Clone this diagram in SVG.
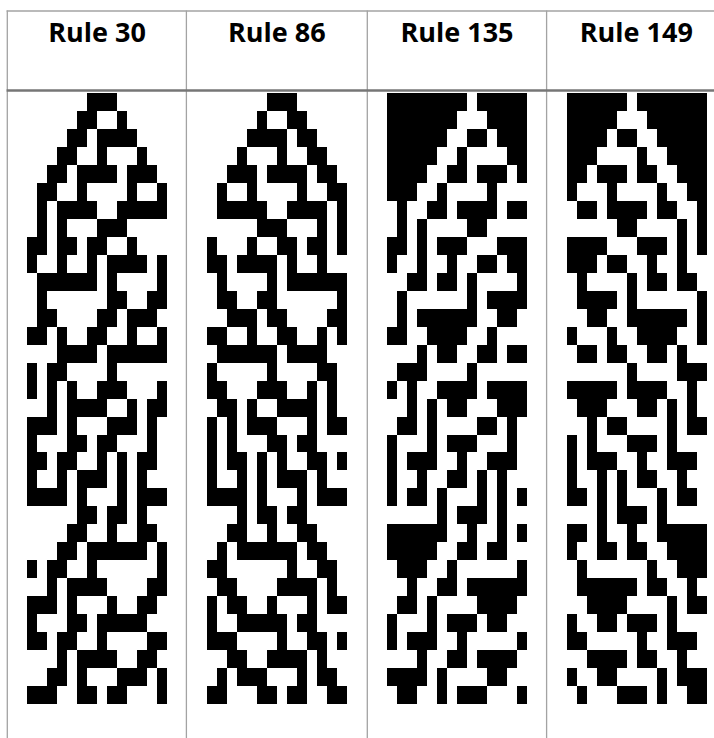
<svg xmlns="http://www.w3.org/2000/svg" width="714" height="738" viewBox="0 0 714 738">
<style>
.hdr{font-family:"Open Sans","Liberation Sans",sans-serif;font-weight:700;font-size:27px;text-anchor:middle;fill:#000}
.ca{fill:#000;shape-rendering:crispEdges}
.thin{stroke:#a3a3a3;stroke-width:1.3;fill:none}
.sep{stroke:#767676;stroke-width:2.4;fill:none}
</style>
<rect x="0" y="0" width="714" height="738" fill="#fff"/>
<g id="table-lines">
<line class="thin" x1="6.6" y1="11" x2="714" y2="11"/>
<line class="thin" x1="7.3" y1="10.4" x2="7.3" y2="738"/>
<line class="thin" x1="186.4" y1="10.4" x2="186.4" y2="738"/>
<line class="thin" x1="367.3" y1="10.4" x2="367.3" y2="738"/>
<line class="thin" x1="546.6" y1="10.4" x2="546.6" y2="738"/>
<line class="sep" x1="6.6" y1="90.5" x2="714" y2="90.5"/>
</g>
<g id="rule30">
<text class="hdr" x="97" y="41.7">Rule 30</text>
<path class="ca" transform="translate(26.7 93.3) scale(10 17.96)" d="M6 0h3v1h-3zM5 1h2v1h-2zM9 1h1v1h-1zM4 2h2v1h-2zM7 2h4v1h-4zM3 3h2v1h-2zM7 3h1v1h-1zM11 3h1v1h-1zM2 4h2v1h-2zM5 4h4v1h-4zM10 4h3v1h-3zM1 5h2v1h-2zM5 5h1v1h-1zM10 5h1v1h-1zM13 5h1v1h-1zM1 6h1v1h-1zM3 6h4v1h-4zM9 6h5v1h-5zM1 7h1v1h-1zM3 7h1v1h-1zM7 7h3v1h-3zM0 8h2v1h-2zM3 8h2v1h-2zM6 8h2v1h-2zM10 8h1v1h-1zM0 9h1v1h-1zM3 9h1v1h-1zM6 9h1v1h-1zM8 9h4v1h-4zM13 9h1v1h-1zM1 10h6v1h-6zM8 10h1v1h-1zM13 10h1v1h-1zM1 11h1v1h-1zM8 11h2v1h-2zM12 11h2v1h-2zM1 12h2v1h-2zM7 12h2v1h-2zM10 12h3v1h-3zM0 13h2v1h-2zM3 13h1v1h-1zM6 13h2v1h-2zM10 13h1v1h-1zM13 13h1v1h-1zM3 14h4v1h-4zM8 14h6v1h-6zM0 15h1v1h-1zM2 15h2v1h-2zM8 15h1v1h-1zM0 16h1v1h-1zM2 16h1v1h-1zM4 16h1v1h-1zM7 16h3v1h-3zM13 16h1v1h-1zM2 17h1v1h-1zM4 17h4v1h-4zM10 17h1v1h-1zM12 17h2v1h-2zM0 18h3v1h-3zM4 18h1v1h-1zM8 18h3v1h-3zM12 18h1v1h-1zM0 19h1v1h-1zM4 19h2v1h-2zM7 19h2v1h-2zM12 19h1v1h-1zM0 20h2v1h-2zM3 20h2v1h-2zM7 20h1v1h-1zM9 20h1v1h-1zM11 20h2v1h-2zM0 21h1v1h-1zM3 21h1v1h-1zM5 21h3v1h-3zM9 21h1v1h-1zM11 21h1v1h-1zM0 22h4v1h-4zM5 22h1v1h-1zM9 22h1v1h-1zM11 22h3v1h-3zM5 23h2v1h-2zM8 23h2v1h-2zM11 23h1v1h-1zM4 24h2v1h-2zM8 24h1v1h-1zM11 24h2v1h-2zM3 25h2v1h-2zM6 25h6v1h-6zM13 25h1v1h-1zM0 26h1v1h-1zM2 26h2v1h-2zM6 26h1v1h-1zM13 26h1v1h-1zM2 27h1v1h-1zM4 27h4v1h-4zM12 27h2v1h-2zM0 28h3v1h-3zM4 28h1v1h-1zM8 28h1v1h-1zM11 28h2v1h-2zM0 29h1v1h-1zM4 29h2v1h-2zM7 29h5v1h-5zM0 30h2v1h-2zM3 30h2v1h-2zM7 30h1v1h-1zM12 30h2v1h-2zM3 31h1v1h-1zM5 31h4v1h-4zM11 31h2v1h-2zM2 32h2v1h-2zM5 32h1v1h-1zM9 32h3v1h-3zM13 32h1v1h-1zM0 33h3v1h-3zM5 33h2v1h-2zM8 33h2v1h-2zM13 33h1v1h-1z"/>
</g>
<g id="rule86">
<text class="hdr" x="276.8" y="41.7">Rule 86</text>
<path class="ca" transform="translate(206.7 93.3) scale(10 17.96)" d="M6 0h3v1h-3zM5 1h1v1h-1zM8 1h2v1h-2zM4 2h4v1h-4zM9 2h2v1h-2zM3 3h1v1h-1zM7 3h1v1h-1zM10 3h2v1h-2zM2 4h3v1h-3zM6 4h4v1h-4zM11 4h2v1h-2zM1 5h1v1h-1zM4 5h1v1h-1zM9 5h1v1h-1zM12 5h2v1h-2zM1 6h5v1h-5zM8 6h4v1h-4zM13 6h1v1h-1zM5 7h3v1h-3zM11 7h1v1h-1zM13 7h1v1h-1zM0 8h1v1h-1zM4 8h1v1h-1zM7 8h2v1h-2zM10 8h2v1h-2zM13 8h1v1h-1zM0 9h2v1h-2zM3 9h4v1h-4zM8 9h1v1h-1zM11 9h1v1h-1zM1 10h1v1h-1zM6 10h1v1h-1zM8 10h6v1h-6zM1 11h2v1h-2zM5 11h2v1h-2zM13 11h1v1h-1zM2 12h3v1h-3zM6 12h2v1h-2zM12 12h2v1h-2zM0 13h2v1h-2zM4 13h1v1h-1zM7 13h2v1h-2zM11 13h1v1h-1zM13 13h1v1h-1zM1 14h6v1h-6zM8 14h4v1h-4zM0 15h1v1h-1zM6 15h1v1h-1zM11 15h2v1h-2zM0 16h2v1h-2zM5 16h3v1h-3zM10 16h1v1h-1zM12 16h1v1h-1zM1 17h2v1h-2zM4 17h1v1h-1zM7 17h4v1h-4zM12 17h1v1h-1zM0 18h1v1h-1zM2 18h1v1h-1zM4 18h3v1h-3zM10 18h1v1h-1zM12 18h2v1h-2zM0 19h1v1h-1zM2 19h1v1h-1zM6 19h2v1h-2zM9 19h2v1h-2zM0 20h1v1h-1zM2 20h2v1h-2zM5 20h1v1h-1zM7 20h1v1h-1zM10 20h2v1h-2zM13 20h1v1h-1zM0 21h1v1h-1zM3 21h1v1h-1zM5 21h1v1h-1zM7 21h3v1h-3zM11 21h1v1h-1zM0 22h4v1h-4zM5 22h1v1h-1zM9 22h1v1h-1zM11 22h3v1h-3zM3 23h1v1h-1zM5 23h2v1h-2zM8 23h2v1h-2zM2 24h2v1h-2zM6 24h1v1h-1zM9 24h2v1h-2zM1 25h1v1h-1zM3 25h6v1h-6zM10 25h2v1h-2zM0 26h2v1h-2zM8 26h1v1h-1zM11 26h2v1h-2zM1 27h2v1h-2zM7 27h4v1h-4zM12 27h1v1h-1zM0 28h1v1h-1zM2 28h2v1h-2zM6 28h1v1h-1zM10 28h1v1h-1zM12 28h2v1h-2zM0 29h1v1h-1zM3 29h5v1h-5zM9 29h2v1h-2zM0 30h3v1h-3zM7 30h1v1h-1zM10 30h2v1h-2zM13 30h1v1h-1zM2 31h2v1h-2zM6 31h4v1h-4zM11 31h1v1h-1zM1 32h1v1h-1zM3 32h3v1h-3zM9 32h1v1h-1zM11 32h2v1h-2zM0 33h2v1h-2zM5 33h2v1h-2zM8 33h2v1h-2zM12 33h2v1h-2z"/>
</g>
<g id="rule135">
<text class="hdr" x="457" y="41.7">Rule 135</text>
<path class="ca" transform="translate(386.7 93.3) scale(10 17.96)" d="M0 0h8v1h-8zM9 0h5v1h-5zM0 1h7v1h-7zM10 1h4v1h-4zM0 2h6v1h-6zM8 2h2v1h-2zM11 2h3v1h-3zM0 3h5v1h-5zM7 3h1v1h-1zM12 3h2v1h-2zM0 4h4v1h-4zM6 4h2v1h-2zM9 4h3v1h-3zM13 4h1v1h-1zM0 5h3v1h-3zM5 5h1v1h-1zM10 5h1v1h-1zM1 6h1v1h-1zM4 6h2v1h-2zM7 6h4v1h-4zM12 6h2v1h-2zM1 7h1v1h-1zM3 7h1v1h-1zM8 7h2v1h-2zM0 8h2v1h-2zM3 8h1v1h-1zM5 8h3v1h-3zM11 8h3v1h-3zM0 9h1v1h-1zM3 9h1v1h-1zM6 9h1v1h-1zM9 9h2v1h-2zM12 9h2v1h-2zM2 10h2v1h-2zM5 10h2v1h-2zM8 10h1v1h-1zM13 10h1v1h-1zM1 11h1v1h-1zM8 11h1v1h-1zM10 11h4v1h-4zM1 12h1v1h-1zM3 12h6v1h-6zM11 12h2v1h-2zM0 13h2v1h-2zM4 13h4v1h-4zM10 13h1v1h-1zM3 14h1v1h-1zM5 14h2v1h-2zM9 14h2v1h-2zM12 14h2v1h-2zM1 15h3v1h-3zM8 15h1v1h-1zM0 16h1v1h-1zM2 16h1v1h-1zM5 16h4v1h-4zM10 16h4v1h-4zM2 17h1v1h-1zM4 17h1v1h-1zM6 17h2v1h-2zM11 17h3v1h-3zM1 18h2v1h-2zM4 18h1v1h-1zM9 18h2v1h-2zM12 18h1v1h-1zM0 19h1v1h-1zM4 19h1v1h-1zM6 19h3v1h-3zM12 19h1v1h-1zM0 20h1v1h-1zM2 20h3v1h-3zM7 20h1v1h-1zM10 20h3v1h-3zM0 21h1v1h-1zM3 21h1v1h-1zM6 21h2v1h-2zM9 21h1v1h-1zM11 21h1v1h-1zM0 22h1v1h-1zM2 22h2v1h-2zM5 22h1v1h-1zM9 22h1v1h-1zM11 22h1v1h-1zM13 22h1v1h-1zM5 23h1v1h-1zM7 23h3v1h-3zM11 23h1v1h-1zM0 24h6v1h-6zM8 24h1v1h-1zM11 24h1v1h-1zM13 24h1v1h-1zM0 25h5v1h-5zM7 25h2v1h-2zM10 25h2v1h-2zM1 26h3v1h-3zM6 26h1v1h-1zM13 26h1v1h-1zM2 27h1v1h-1zM5 27h2v1h-2zM8 27h6v1h-6zM1 28h2v1h-2zM4 28h1v1h-1zM9 28h4v1h-4zM0 29h1v1h-1zM4 29h1v1h-1zM6 29h3v1h-3zM10 29h2v1h-2zM0 30h1v1h-1zM2 30h3v1h-3zM7 30h1v1h-1zM13 30h1v1h-1zM3 31h1v1h-1zM6 31h2v1h-2zM9 31h4v1h-4zM0 32h4v1h-4zM5 32h1v1h-1zM10 32h2v1h-2zM1 33h2v1h-2zM5 33h1v1h-1zM7 33h3v1h-3zM13 33h1v1h-1z"/>
</g>
<g id="rule149">
<text class="hdr" x="636.3" y="41.7">Rule 149</text>
<path class="ca" transform="translate(566.7 93.3) scale(10 17.96)" d="M0 0h6v1h-6zM7 0h7v1h-7zM0 1h5v1h-5zM8 1h6v1h-6zM0 2h4v1h-4zM5 2h2v1h-2zM9 2h5v1h-5zM0 3h3v1h-3zM7 3h1v1h-1zM10 3h4v1h-4zM0 4h2v1h-2zM3 4h3v1h-3zM7 4h2v1h-2zM11 4h3v1h-3zM0 5h1v1h-1zM4 5h1v1h-1zM9 5h1v1h-1zM12 5h2v1h-2zM1 6h2v1h-2zM4 6h4v1h-4zM9 6h2v1h-2zM13 6h1v1h-1zM5 7h2v1h-2zM11 7h1v1h-1zM13 7h1v1h-1zM0 8h4v1h-4zM7 8h3v1h-3zM11 8h1v1h-1zM13 8h1v1h-1zM0 9h3v1h-3zM4 9h2v1h-2zM8 9h1v1h-1zM11 9h1v1h-1zM1 10h1v1h-1zM6 10h1v1h-1zM8 10h2v1h-2zM11 10h2v1h-2zM1 11h4v1h-4zM6 11h1v1h-1zM13 11h1v1h-1zM2 12h2v1h-2zM6 12h6v1h-6zM13 12h1v1h-1zM0 13h1v1h-1zM4 13h1v1h-1zM7 13h4v1h-4zM13 13h1v1h-1zM1 14h2v1h-2zM4 14h2v1h-2zM8 14h2v1h-2zM11 14h1v1h-1zM6 15h1v1h-1zM11 15h3v1h-3zM0 16h5v1h-5zM6 16h4v1h-4zM12 16h1v1h-1zM1 17h3v1h-3zM7 17h2v1h-2zM10 17h1v1h-1zM12 17h1v1h-1zM2 18h1v1h-1zM4 18h2v1h-2zM10 18h1v1h-1zM12 18h2v1h-2zM0 19h1v1h-1zM2 19h1v1h-1zM6 19h3v1h-3zM10 19h1v1h-1zM0 20h1v1h-1zM2 20h3v1h-3zM7 20h1v1h-1zM10 20h3v1h-3zM0 21h1v1h-1zM3 21h1v1h-1zM5 21h1v1h-1zM7 21h2v1h-2zM11 21h1v1h-1zM0 22h2v1h-2zM3 22h1v1h-1zM5 22h1v1h-1zM9 22h1v1h-1zM11 22h2v1h-2zM3 23h1v1h-1zM5 23h3v1h-3zM9 23h1v1h-1zM0 24h2v1h-2zM3 24h1v1h-1zM6 24h1v1h-1zM9 24h5v1h-5zM0 25h1v1h-1zM3 25h2v1h-2zM6 25h2v1h-2zM10 25h4v1h-4zM1 26h1v1h-1zM8 26h1v1h-1zM11 26h3v1h-3zM1 27h6v1h-6zM8 27h2v1h-2zM12 27h1v1h-1zM2 28h4v1h-4zM10 28h1v1h-1zM12 28h2v1h-2zM0 29h1v1h-1zM3 29h2v1h-2zM6 29h3v1h-3zM10 29h1v1h-1zM0 30h2v1h-2zM7 30h1v1h-1zM10 30h3v1h-3zM2 31h4v1h-4zM7 31h2v1h-2zM11 31h1v1h-1zM0 32h1v1h-1zM3 32h2v1h-2zM9 32h1v1h-1zM11 32h3v1h-3zM1 33h1v1h-1zM5 33h3v1h-3zM9 33h1v1h-1zM12 33h2v1h-2z"/>
</g>
</svg>
